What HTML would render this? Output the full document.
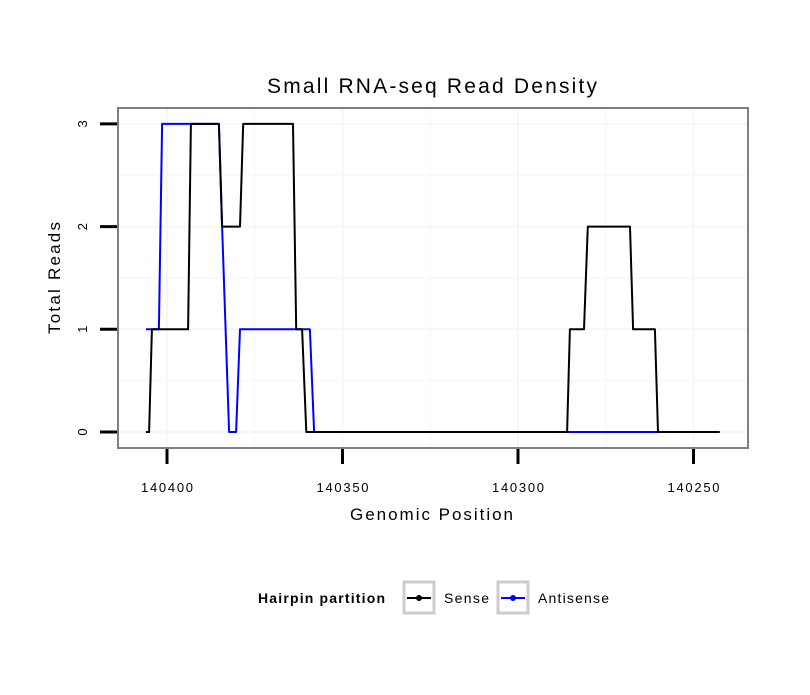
<!DOCTYPE html>
<html><head><meta charset="utf-8"><style>
body{margin:0;background:#fff;}
svg text{font-family:"Liberation Sans",sans-serif;}
</style></head><body>
<svg id="chart" width="810" height="690" xmlns="http://www.w3.org/2000/svg">
<rect width="810" height="690" fill="#fff"/>
<text x="267" y="93" font-size="21" textLength="330" lengthAdjust="spacing">Small RNA-seq Read Density</text>
<g id="grid"></g>
<g id="series"></g>
<rect x="118" y="108" width="630" height="340" fill="none" stroke="#7f7f7f" stroke-width="2"/>
<g id="axes"></g>
<text x="350" y="520" font-size="17" textLength="163" lengthAdjust="spacing">Genomic Position</text>
<text transform="translate(60,334) rotate(-90)" font-size="17" textLength="112" lengthAdjust="spacing">Total Reads</text>
<g>
<text x="258" y="603" font-size="14" font-weight="bold" textLength="127" lengthAdjust="spacing">Hairpin partition</text>
<g>
<rect x="404" y="582" width="30" height="31" fill="#fff" stroke="#cccccc" stroke-width="3"/>
<line x1="407" y1="598" x2="431" y2="598" stroke="#000" stroke-width="2"/>
<circle cx="419" cy="598" r="3" fill="#000"/>
<text x="444" y="603" font-size="14" textLength="45" lengthAdjust="spacing">Sense</text></g>
<g>
<rect x="498" y="582" width="30" height="31" fill="#fff" stroke="#cccccc" stroke-width="3"/>
<line x1="501" y1="598" x2="525" y2="598" stroke="#0000ff" stroke-width="2"/>
<circle cx="513" cy="598" r="3" fill="#0000ff"/>
<text x="538" y="603" font-size="14" textLength="71" lengthAdjust="spacing">Antisense</text></g>
</g>
</svg>
<script>
const xTicks = [140400, 140350, 140300, 140250];
const yTicks = [0, 1, 2, 3];
const senseX = [140406,140405.1,140404.3,140394,140393.2,140385.2,140384.3,140379.2,140378.3,140364.1,140363.2,140361.5,140360.3,140286,140285.2,140281.2,140280.1,140268.1,140267.2,140261,140260.1,140242.5];
const senseY = [0,0,1,1,3,3,2,2,3,3,1,1,0,0,1,1,2,2,1,1,0,0];
const antiX = [140406,140402.3,140401.4,140385.2,140384.3,140382.3,140380.3,140379.2,140359.3,140358.1,140260.1];
const antiY = [1,1,3,3,2,0,0,1,1,0,0];
const NS='http://www.w3.org/2000/svg';
function sx(v){return 167+(140400-v)*3.51;}
function sy(v){return 432-v*102.7;}
const grid=document.getElementById('grid'), axes=document.getElementById('axes'), series=document.getElementById('series');
function mk(tag,attrs,parent){const e=document.createElementNS(NS,tag);for(const k in attrs)e.setAttribute(k,attrs[k]);parent.appendChild(e);return e;}
for(let i=0;i<xTicks.length;i++){
  const g=mk('line',{x1:sx(xTicks[i]),x2:sx(xTicks[i]),y1:108,y2:448,stroke:'#f7f7f7','stroke-width':2},grid);
  
  
  if(i<xTicks.length-1){const m=(xTicks[i]+xTicks[i+1])/2;
    const gm=mk('line',{x1:sx(m),x2:sx(m),y1:108,y2:448,stroke:'#f9f9f9','stroke-width':1.5},grid);
    
    }
  const t=mk('line',{x1:sx(xTicks[i]),x2:sx(xTicks[i]),y1:449,y2:464,stroke:'#000','stroke-width':3},axes);
  
  
  const l=mk('text',{x:sx(xTicks[i])-26,y:492,'font-size':13,textLength:52,lengthAdjust:'spacing'},axes);
  l.textContent=xTicks[i];
  
  
}
for(let i=0;i<yTicks.length;i++){
  const g=mk('line',{x1:118,x2:748,y1:sy(yTicks[i]),y2:sy(yTicks[i]),stroke:'#f7f7f7','stroke-width':2},grid);
  
  
  if(i<yTicks.length-1){const m=(yTicks[i]+yTicks[i+1])/2;
    const gm=mk('line',{x1:118,x2:748,y1:sy(m),y2:sy(m),stroke:'#f9f9f9','stroke-width':1.5},grid);
    
    }
  const t=mk('line',{x1:100,x2:117,y1:sy(yTicks[i]),y2:sy(yTicks[i]),stroke:'#000','stroke-width':3},axes);
  
  
  const l=mk('text',{transform:'translate(87,'+sy(yTicks[i])+') rotate(-90)','font-size':13,'text-anchor':'middle'},axes);
  l.textContent=yTicks[i];
  
  
}
function pts(xs,ys){return xs.map((x,i)=>sx(x).toFixed(1)+','+sy(ys[i]).toFixed(1)).join(' ');}
const a=mk('polyline',{points:pts(antiX,antiY),fill:'none',stroke:'#0000ff','stroke-width':2,'stroke-linejoin':'round'},series);


const s=mk('polyline',{points:pts(senseX,senseY),fill:'none',stroke:'#000','stroke-width':2,'stroke-linejoin':'round'},series);


</script>
</body></html>
